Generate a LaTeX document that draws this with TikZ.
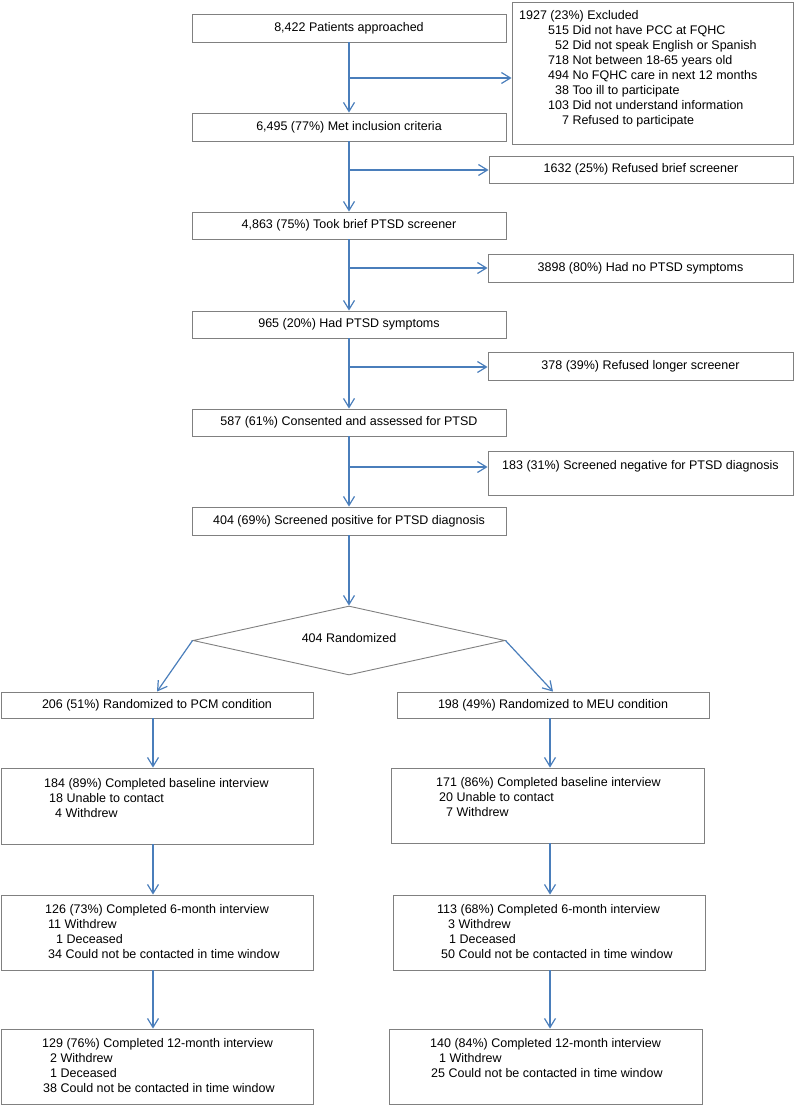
\documentclass[tikz,border=0pt]{standalone}
\usepackage{fontspec}
\setmainfont{Liberation Sans}
\usetikzlibrary{arrows.meta,shapes.geometric}
\definecolor{arrc}{HTML}{4A7EBB}
\definecolor{bord}{HTML}{808080}
\begin{document}
\begin{tikzpicture}[x=1pt,y=-1pt,
  every node/.style={font=\fontsize{12.5}{15}\selectfont},
  box/.style={draw=bord, line width=0.9pt, inner sep=0pt, rectangle},
  flow/.style={draw=arrc, line width=1.2pt, -{Straight Barb[length=9pt,width=11pt,line width=1.2pt]}},
  txt/.style={inner sep=0pt, align=left, anchor=north west}
]
\useasboundingbox (0,0) rectangle (795,1105);

% main column
\node[box, minimum width=314, minimum height=28] (b1) at (349,28) {8,422 Patients approached};
\node[box, minimum width=314, minimum height=28] (b2) at (349,127) {6,495 (77\%) Met inclusion criteria};
\node[box, minimum width=314, minimum height=27] (b3) at (349,225.5) {4,863 (75\%) Took brief PTSD screener};
\node[box, minimum width=314, minimum height=27] (b4) at (349,324.5) {965 (20\%) Had PTSD symptoms};
\node[box, minimum width=314, minimum height=27] (b5) at (349,422.5) {587 (61\%) Consented and assessed for PTSD};
\node[box, minimum width=314, minimum height=28] (b6) at (349,521) {404 (69\%) Screened positive for PTSD diagnosis};

% side boxes
\node[box, minimum width=281, minimum height=142] (excl) at (652.5,73) {};
\node[txt] (exclt) at (519,10.4) {1927 (23\%) Excluded\\
\hspace*{29pt}515 Did not have PCC at FQHC\\
\hspace*{29pt}\hphantom{0}52 Did not speak English or Spanish\\
\hspace*{29pt}718 Not between 18-65 years old\\
\hspace*{29pt}494 No FQHC care in next 12 months\\
\hspace*{29pt}\hphantom{0}38 Too ill to participate\\
\hspace*{29pt}103 Did not understand information\\
\hspace*{29pt}\hphantom{00}7 Refused to participate};
\node[box, minimum width=304, minimum height=27] (r1) at (641,169.5) {1632 (25\%) Refused brief screener};
\node[box, minimum width=305, minimum height=28] (r2) at (640.5,268) {3898 (80\%) Had no PTSD symptoms};
\node[box, minimum width=305, minimum height=28] (r3) at (640.5,366) {378 (39\%) Refused longer screener};
\node[box, minimum width=305, minimum height=44] (r4) at (640.5,473) {};
\node[inner sep=0pt] (r4t) at (640.5,466) {183 (31\%) Screened negative for PTSD diagnosis};

% branch points
\coordinate (j1) at (349,78);
\coordinate (j2) at (349,170);
\coordinate (j3) at (349,268);
\coordinate (j4) at (349,367);
\coordinate (j5) at (349,467);

\draw[flow] (b1.south) -- (b2.north);
\draw[flow] (b2.south) -- (b3.north);
\draw[flow] (b3.south) -- (b4.north);
\draw[flow] (b4.south) -- (b5.north);
\draw[flow] (b5.south) -- (b6.north);
\draw[flow] (j1) -- (j1 -| excl.west);
\draw[flow] (j2) -- (j2 -| r1.west);
\draw[flow] (j3) -- (j3 -| r2.west);
\draw[flow] (j4) -- (j4 -| r3.west);
\draw[flow] (j5) -- (j5 -| r4.west);

% randomisation
\node[diamond, draw=bord, line width=0.9pt, inner sep=0pt, minimum width=312, minimum height=69, aspect=4.5] (rand) at (349,640.5) {};
\node[inner sep=0pt] (randt) at (349,638.5) {404 Randomized};
\draw[flow] (b6.south) -- (rand.north);

\node[box, minimum width=312, minimum height=26] (pcm) at (157,705) {206 (51\%) Randomized to PCM condition};
\node[box, minimum width=312, minimum height=26] (meu) at (553,705) {198 (49\%) Randomized to MEU condition};
\draw[flow] (rand.west) -- (pcm.north);
\draw[flow] (rand.east) -- (meu.north);

% follow-up boxes
\node[box, minimum width=312, minimum height=76] (pb) at (157,806) {};
\node[box, minimum width=313, minimum height=75] (mb) at (547.5,805.5) {};
\node[box, minimum width=312, minimum height=75] (p6) at (157,932.5) {};
\node[box, minimum width=312, minimum height=75] (m6) at (549,932.5) {};
\node[box, minimum width=312, minimum height=75] (p12) at (157,1066.5) {};
\node[box, minimum width=313, minimum height=75] (m12) at (545.5,1066.5) {};

\node[txt] (pbt) at (44,778.4) {184 (89\%) Completed baseline interview\\
\hspace*{5pt}18 Unable to contact\\
\hspace*{11pt}4 Withdrew};
\node[txt] (mbt) at (436,777.4) {171 (86\%) Completed baseline interview\\
\hspace*{3pt}20 Unable to contact\\
\hspace*{10pt}7 Withdrew};
\node[txt] (p6t) at (45,904.4) {126 (73\%) Completed 6-month interview\\
\hspace*{3pt}11 Withdrew\\
\hspace*{11pt}1 Deceased\\
\hspace*{3pt}34 Could not be contacted in time window};
\node[txt] (m6t) at (437,904.4) {113 (68\%) Completed 6-month interview\\
\hspace*{11pt}3 Withdrew\\
\hspace*{12pt}1 Deceased\\
\hspace*{4pt}50 Could not be contacted in time window};
\node[txt] (p12t) at (42,1038.4) {129 (76\%) Completed 12-month interview\\
\hspace*{8pt}2 Withdrew\\
\hspace*{8pt}1 Deceased\\
\hspace*{1pt}38 Could not be contacted in time window};
\node[txt] (m12t) at (430,1038.4) {140 (84\%) Completed 12-month interview\\
\hspace*{9pt}1 Withdrew\\
\hspace*{1pt}25 Could not be contacted in time window};

\coordinate (lx) at (153,0);
\coordinate (rx) at (550,0);
\draw[flow] (pcm.south -| lx) -- (pb.north -| lx);
\draw[flow] (meu.south -| rx) -- (mb.north -| rx);
\draw[flow] (pb.south -| lx) -- (p6.north -| lx);
\draw[flow] (mb.south -| rx) -- (m6.north -| rx);
\draw[flow] (p6.south -| lx) -- (p12.north -| lx);
\draw[flow] (m6.south -| rx) -- (m12.north -| rx);
\end{tikzpicture}
\end{document}
